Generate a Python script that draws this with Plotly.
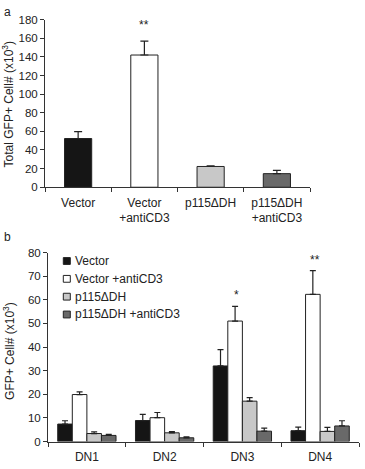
import plotly.graph_objects as go

# ---------------- data ----------------
top_categories = ["Vector", "Vector<br>+antiCD3", "p115ΔDH", "p115ΔDH<br>+antiCD3"]
top_values = [52.3, 142.0, 22.3, 14.6]
top_errors = [7.4, 15.0, 0.8, 3.5]
top_stars = ["", "**", "", ""]

bottom_categories = ["DN1", "DN2", "DN3", "DN4"]
series_names = ["Vector", "Vector +antiCD3", "p115ΔDH", "p115ΔDH +antiCD3"]
vector = [7.4, 8.9, 32.0, 4.6]
vector_err = [1.4, 2.6, 6.9, 1.5]
vector_cd3 = [19.9, 10.1, 51.0, 62.3]
vector_cd3_err = [1.1, 2.2, 6.2, 10.0]
p115 = [3.4, 3.7, 17.1, 4.3]
p115_err = [0.7, 0.5, 1.5, 1.7]
p115_cd3 = [2.6, 1.6, 4.4, 6.6]
p115_cd3_err = [0.5, 0.4, 1.3, 2.2]
bottom_stars = ["", "", "*", "**"]  # above "Vector +antiCD3" bars

series_values = [vector, vector_cd3, p115, p115_cd3]
series_errors = [vector_err, vector_cd3_err, p115_err, p115_cd3_err]
colors = ["#151515", "#ffffff", "#c8c8c8", "#696969"]

# ---------------- layout helpers ----------------
W, H = 365, 469
FONT = "Liberation Sans, Arial, sans-serif"
INK = "#222222"


def px_x(p):
    return p / W


def px_y(p):
    return 1 - p / H


fig = go.Figure()

# top panel
fig.add_trace(go.Bar(
    x=top_categories, y=top_values, width=0.41,
    marker=dict(color=colors, line=dict(color=INK, width=1)),
    error_y=dict(type="data", array=top_errors, arrayminus=[0] * len(top_errors),
                 symmetric=False, color=INK, thickness=1.2, width=4),
    xaxis="x", yaxis="y", showlegend=False,
))

# bottom panel
for name, vals, errs, col in zip(series_names, series_values, series_errors, colors):
    fig.add_trace(go.Bar(
        x=bottom_categories, y=vals, name=name,
        marker=dict(color=col, line=dict(color=INK, width=1)),
        error_y=dict(type="data", array=errs, arrayminus=[0] * len(errs),
                     symmetric=False, color=INK, thickness=1.2, width=3),
        xaxis="x2", yaxis="y2", showlegend=False,
    ))

axis_common = dict(showline=True, linecolor="#333333", linewidth=1, ticks="outside",
                   ticklen=4, tickcolor="#333333", showgrid=False, zeroline=False,
                   tickfont=dict(family=FONT, size=12, color=INK))
ytick_font = dict(family=FONT, size=11.5, color=INK)

fig.update_layout(
    width=W, height=H, margin=dict(l=0, r=0, t=0, b=0),
    paper_bgcolor="white", plot_bgcolor="white",
    barmode="group", bargap=0.25, bargroupgap=0,
    font=dict(family=FONT, size=12, color=INK),
    xaxis=dict(domain=[px_x(45), px_x(310)], anchor="y", tickson="boundaries",
               ticklabelstandoff=4, **axis_common),
    yaxis=dict(domain=[px_y(186), px_y(14)], anchor="x", range=[0, 180], dtick=20,
               **{**axis_common, "tickfont": ytick_font}),
    xaxis2=dict(domain=[px_x(48), px_x(359)], anchor="y2", tickson="boundaries",
                ticklabelstandoff=4, **axis_common),
    yaxis2=dict(domain=[px_y(447), px_y(253)], anchor="x2", range=[0, 80], dtick=10,
                **{**axis_common, "tickfont": ytick_font}),
)

annotations = []
# axis titles
annotations.append(dict(text="Total GFP+ Cell# (x10<sup>3</sup>)", textangle=-90,
                        x=px_x(8), y=px_y(101), xref="paper", yref="paper",
                        xanchor="center", yanchor="middle",
                        showarrow=False, font=dict(size=12)))
annotations.append(dict(text="GFP+ Cell# (x10<sup>3</sup>)", textangle=-90,
                        x=px_x(9), y=px_y(354), xref="paper", yref="paper",
                        xanchor="center", yanchor="middle",
                        showarrow=False, font=dict(size=12)))
# panel letters
annotations.append(dict(text="a", x=px_x(2), y=px_y(-3), xref="paper", yref="paper",
                        xanchor="left", yanchor="top", showarrow=False, font=dict(size=12)))
annotations.append(dict(text="b", x=px_x(2), y=px_y(228), xref="paper", yref="paper",
                        xanchor="left", yanchor="top", showarrow=False, font=dict(size=12)))
# significance stars
for cat, v, e, s in zip(top_categories, top_values, top_errors, top_stars):
    if s:
        annotations.append(dict(text=s, x=cat, y=v + e, xref="x", yref="y",
                                yanchor="bottom", yshift=7, showarrow=False,
                                font=dict(size=12)))
for i, (cat, s) in enumerate(zip(bottom_categories, bottom_stars)):
    if s:
        annotations.append(dict(text=s, x=cat, y=vector_cd3[i] + vector_cd3_err[i],
                                xref="x2", yref="y2", xshift=-5.5,
                                yanchor="bottom", yshift=2, showarrow=False,
                                font=dict(size=12)))

# legend (drawn as swatches + labels)
shapes = []
for k, (name, col) in enumerate(zip(series_names, colors)):
    cy = 261.7 + 18.3 * k
    shapes.append(dict(type="rect", xref="paper", yref="paper",
                       x0=px_x(63.3), x1=px_x(70.3), y0=px_y(cy + 3.5), y1=px_y(cy - 3.5),
                       fillcolor=col, line=dict(color=INK, width=1)))
    annotations.append(dict(text=name, x=px_x(72.5), y=px_y(cy), xref="paper", yref="paper",
                            xanchor="left", yanchor="middle", showarrow=False,
                            font=dict(size=12)))

fig.update_layout(annotations=annotations, shapes=shapes)

fig.write_html("out.html")
